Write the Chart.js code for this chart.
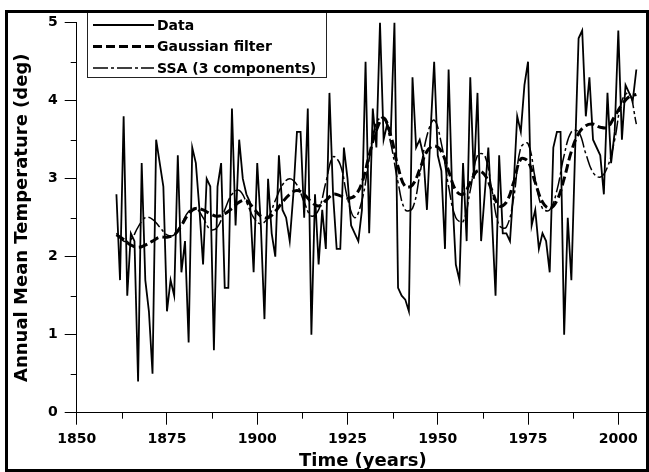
<!DOCTYPE html>
<html lang="en">
<head>
<meta charset="UTF-8">
<title>Annual Mean Temperature</title>
<script src="https://cdn.jsdelivr.net/npm/chart.js"></script>
<style>
    html, body { margin: 0; padding: 0; background: #fff; }
    #wrap { width: 649px; height: 472px; }
</style>
</head>
<body>
<div id="wrap"><canvas id="grafico" width="649" height="472"></canvas></div>
<script>
// annual values, one per year from firstYear
var firstYear = 1861;
var annualTemp = [
    2.8, 1.7, 3.8, 1.5, 2.3, 2.2, 0.4, 3.2, 1.7, 1.3,
    0.5, 3.5, 3.2, 2.9, 1.3, 1.7, 1.5, 3.3, 1.8, 2.2,
    0.9, 3.4, 3.2, 2.6, 1.9, 3.0, 2.9, 0.8, 2.9, 3.2,
    1.6, 1.6, 3.9, 2.4, 3.5, 3.0, 2.8, 2.7, 1.8, 3.2,
    2.4, 1.2, 3.0, 2.3, 2.0, 3.3, 2.6, 2.5, 2.2, 2.8,
    3.6, 3.6, 2.5, 3.9, 1.0, 2.8, 1.9, 2.6, 2.1, 4.1,
    2.8, 2.1, 2.1, 3.4, 3.0, 2.4, 2.3, 2.2, 2.6, 4.5,
    2.3, 3.9, 3.4, 5.0, 3.5, 3.7, 3.6, 5.0, 1.6, 1.5,
    1.45, 1.3, 4.3, 3.4, 3.5, 3.3, 2.6, 3.6, 4.5, 3.3,
    3.1, 2.1, 4.4, 2.8, 1.9, 1.7, 3.2, 2.2, 4.3, 3.0,
    4.1, 2.2, 2.8, 3.4, 2.5, 1.5, 3.3, 2.3, 2.3, 2.2,
    2.9, 3.8, 3.6, 4.2, 4.5, 2.4, 2.6, 2.1, 2.3, 2.2,
    1.8, 3.4, 3.6, 3.6, 1.0, 2.5, 1.7, 3.3, 4.8, 4.9,
    3.8, 4.3, 3.5, 3.4, 3.3, 2.8, 4.1, 3.2, 3.6, 4.9,
    3.5, 4.2, 4.1, 4.0, 4.4
];

// smoothed curves, read every second year from 1861
var smoothStart = 1861;
var smoothStep = 2;
var gaussian = [
    2.28, 2.22, 2.15, 2.12, 2.15, 2.2, 2.25, 2.25, 2.28, 2.4,
    2.55, 2.62, 2.6, 2.55, 2.52, 2.55, 2.62, 2.7, 2.72, 2.62,
    2.52, 2.5, 2.58, 2.7, 2.8, 2.85, 2.8, 2.7, 2.65, 2.72,
    2.8, 2.78, 2.75, 2.78, 2.95, 3.3, 3.62, 3.78, 3.55, 3.15,
    2.9, 2.92, 3.12, 3.35, 3.42, 3.35, 3.1, 2.85, 2.8, 2.95,
    3.1, 3.05, 2.85, 2.65, 2.7, 2.95, 3.25, 3.22, 2.95, 2.7,
    2.62, 2.72, 3.0, 3.35, 3.58, 3.68, 3.7, 3.66, 3.66, 3.8,
    3.95, 4.05, 4.08
];
var ssa = [
    2.3, 2.2, 2.22, 2.38, 2.5, 2.48, 2.38, 2.28, 2.28, 2.42,
    2.58, 2.62, 2.5, 2.35, 2.38, 2.6, 2.8, 2.85, 2.7, 2.5,
    2.42, 2.5, 2.72, 2.92, 3.0, 2.92, 2.7, 2.52, 2.6, 2.95,
    3.28, 3.18, 2.75, 2.5, 2.72, 3.25, 3.72, 3.78, 3.45, 2.95,
    2.6, 2.62, 3.05, 3.55, 3.75, 3.45, 2.9, 2.5, 2.45, 2.85,
    3.3, 3.3, 2.85, 2.4, 2.38, 2.75, 3.4, 3.45, 3.0, 2.62,
    2.6, 2.85, 3.3, 3.6, 3.6, 3.32, 3.08, 3.02, 3.15, 3.5,
    4.0, 4.1, 3.7
];

var seriesNames = ['Data', 'Gaussian filter', 'SSA (3 components)'];
var xMajorTicks = [1850, 1875, 1900, 1925, 1950, 1975, 2000];
var xMinorTicks = [1862.5, 1887.5, 1912.5, 1937.5, 1962.5, 1987.5];
var yMajorTicks = [0, 1, 2, 3, 4, 5];
var yMinorTicks = [0.5, 1.5, 2.5, 3.5, 4.5];

function toPoints(start, step, values) {
    var pts = [];
    for (var i = 0; i < values.length; i++) {
        pts.push({ x: start + i * step, y: values[i] });
    }
    return pts;
}

var fontFamily = '"DejaVu Sans", sans-serif';
Chart.defaults.font.family = fontFamily;
Chart.defaults.font.weight = 'bold';
Chart.defaults.color = '#000';

// frame, minor ticks and the boxed legend
var extras = {
    id: 'extras',
    beforeDraw: function(chart) {
        var c = chart.ctx;
        c.save();
        c.fillStyle = '#fff';
        c.fillRect(0, 0, chart.width, chart.height);
        c.restore();
    },
    afterDraw: function(chart) {
        var c = chart.ctx;
        var a = chart.chartArea;
        var sx = chart.scales.x, sy = chart.scales.y;
        c.save();
        c.strokeStyle = '#000';
        c.lineWidth = 1;
        c.beginPath();
        xMinorTicks.forEach(function(v) {
            var px = Math.round(sx.getPixelForValue(v)) + 0.5;
            c.moveTo(px, a.bottom); c.lineTo(px, a.bottom + 6);
        });
        yMinorTicks.forEach(function(v) {
            var py = Math.round(sy.getPixelForValue(v)) + 0.5;
            c.moveTo(a.left - 6, py); c.lineTo(a.left, py);
        });
        c.stroke();

        // legend
        c.fillStyle = '#fff';
        c.fillRect(87, 11, 240, 67);
        c.strokeStyle = '#222';
        c.strokeRect(87.5, 11.5, 239, 66);
        var rows = [25, 46.5, 68];
        chart.data.datasets.forEach(function(ds, i) {
            c.save();
            c.strokeStyle = ds.borderColor;
            c.lineWidth = ds.borderWidth;
            c.setLineDash(ds.borderDash || []);
            c.beginPath();
            c.moveTo(93, rows[i]); c.lineTo(154, rows[i]);
            c.stroke();
            c.restore();
            c.fillStyle = '#000';
            c.font = 'bold 14px ' + fontFamily;
            c.textBaseline = 'middle';
            c.fillText(ds.label, 157, rows[i] + 1);
        });

        // outer frame
        c.lineWidth = 3;
        c.strokeStyle = '#000';
        c.strokeRect(6.5, 11.5, 641, 459);
        c.restore();
    }
};

var ctx = document.getElementById('grafico').getContext('2d');
var grafico = new Chart(ctx, {
    type: 'line',
    data: {
        datasets: [{
            label: seriesNames[0],
            data: toPoints(firstYear, 1, annualTemp),
            borderColor: '#000',
            borderWidth: 1.8,
            pointRadius: 0,
            tension: 0,
            clip: false
        }, {
            label: seriesNames[1],
            data: toPoints(smoothStart, smoothStep, gaussian),
            borderColor: '#000',
            borderWidth: 3,
            borderDash: [9, 4],
            pointRadius: 0,
            tension: 0.4,
            clip: false
        }, {
            label: seriesNames[2],
            data: toPoints(smoothStart, smoothStep, ssa),
            borderColor: '#000',
            borderWidth: 1.5,
            borderDash: [15, 3, 3, 3],
            pointRadius: 0,
            tension: 0.4,
            clip: false
        }]
    },
    options: {
        responsive: false,
        animation: false,
        layout: { padding: { top: 22.7, right: 0, bottom: 0, left: 0 } },
        plugins: {
            legend: { display: false },
            tooltip: { enabled: false }
        },
        scales: {
            x: {
                type: 'linear',
                min: 1850,
                max: 2008.5,
                afterBuildTicks: function(s) {
                    s.ticks = xMajorTicks.map(function(v) { return { value: v }; });
                },
                afterFit: function(s) { s.height = 59.3; },
                grid: { drawOnChartArea: false, tickLength: 12, color: '#000' },
                border: { color: '#000', width: 1 },
                ticks: {
                    color: '#000',
                    font: { size: 14, weight: 'bold' },
                    padding: 6,
                    maxRotation: 0,
                    autoSkip: false,
                    callback: function(v) { return String(v); }
                },
                title: {
                    display: true,
                    text: 'Time (years)',
                    color: '#000',
                    font: { size: 18, weight: 'bold' },
                    padding: { top: 0, bottom: 0 }
                }
            },
            y: {
                min: 0,
                max: 5,
                afterBuildTicks: function(s) {
                    s.ticks = yMajorTicks.map(function(v) { return { value: v }; });
                },
                afterFit: function(s) { s.width = 76.7; },
                grid: { drawOnChartArea: false, tickLength: 12, color: '#000' },
                border: { color: '#000', width: 1 },
                ticks: {
                    color: '#000',
                    font: { size: 14, weight: 'bold' },
                    padding: 7,
                    callback: function(v) { return String(v); }
                },
                title: {
                    display: true,
                    text: 'Annual Mean Temperature (deg)',
                    color: '#000',
                    font: { size: 18, weight: 'bold' },
                    padding: { top: 12, bottom: 0 }
                }
            }
        }
    },
    plugins: [extras]
});
</script>
</body>
</html>
